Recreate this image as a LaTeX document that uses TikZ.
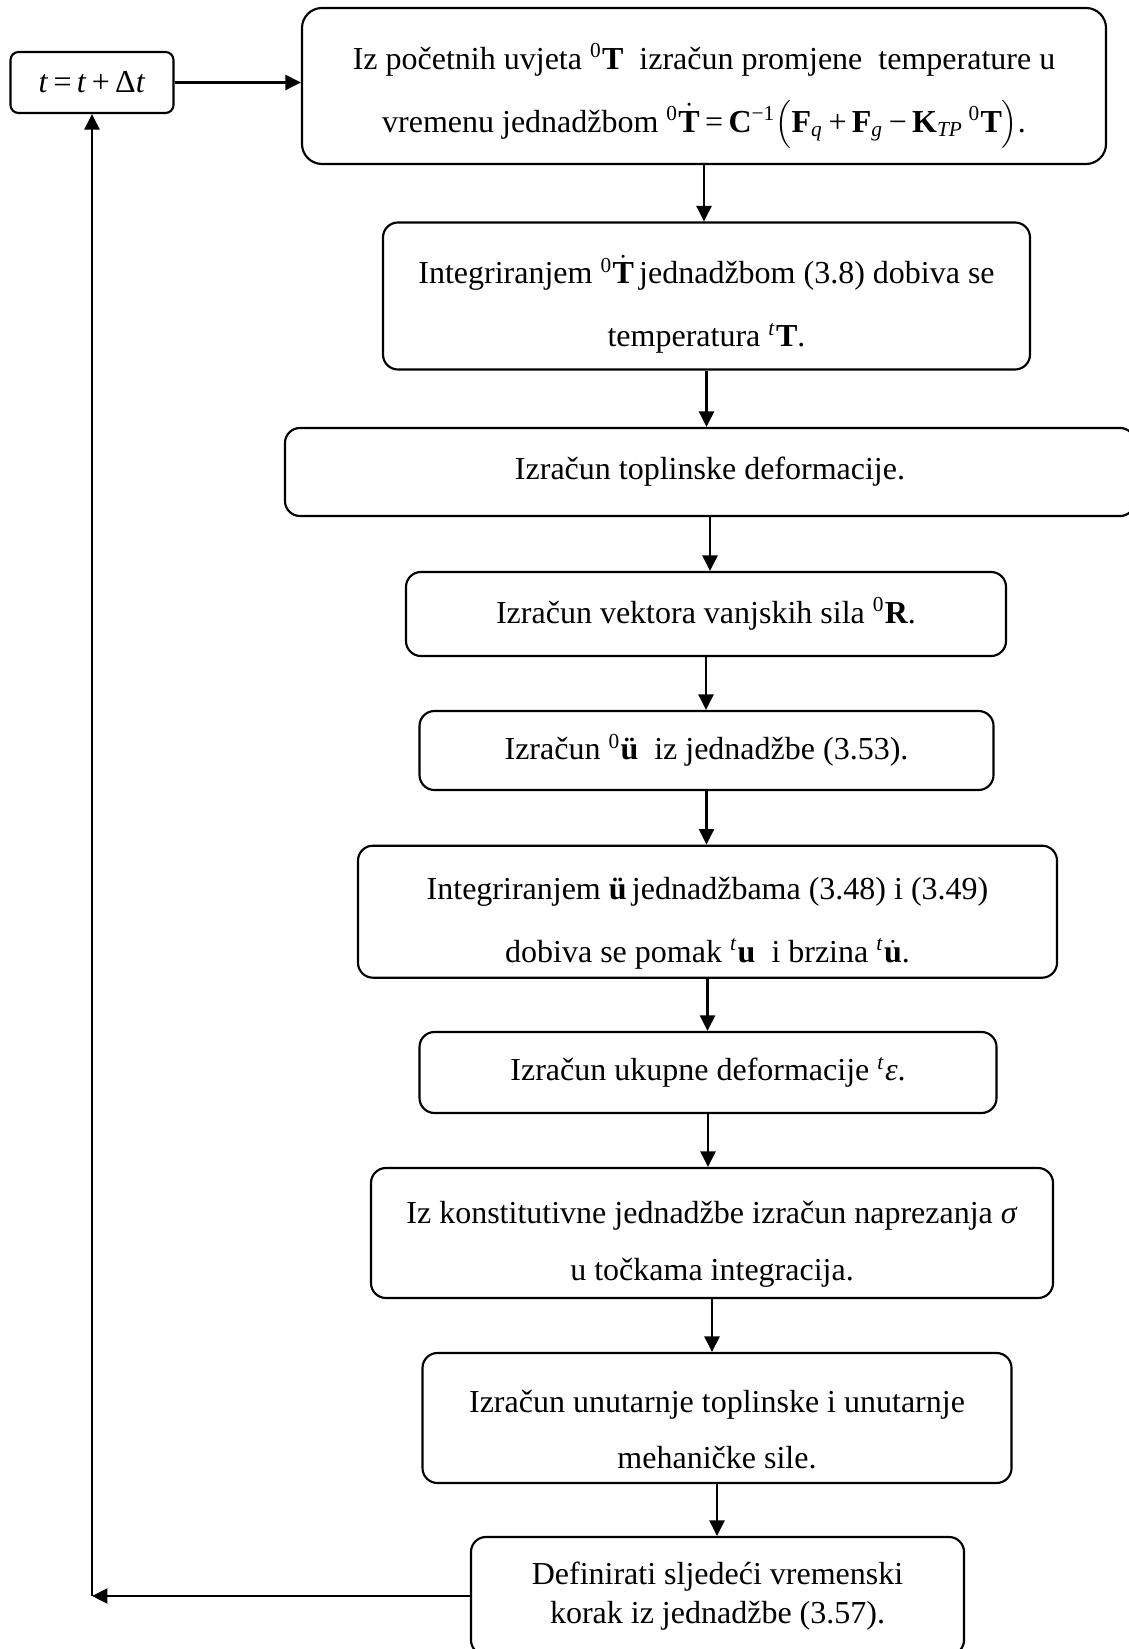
\documentclass[tikz,border=0pt]{standalone}
\usepackage{fontspec}
\setmainfont{Liberation Serif}
\usetikzlibrary{arrows.meta}

\begin{document}
\begin{tikzpicture}[x=0.375pt,y=-0.375pt,
  box/.style={draw, rounded corners=5.6pt, line width=0.8pt, inner sep=0pt, align=center,
    font=\fontsize{12}{14.8}\selectfont},
  twobox/.style={box, font=\fontsize{12}{23.6}\selectfont},
  arr/.style={line width=0.9pt, -{Triangle[length=5.8pt,width=5.6pt]}}]
\def\pu{0.375pt}
\def\up{\rule{0pt}{17pt}}
\def\dotbf#1{$\dot{\mbox{\textbf{#1}}}$}
\useasboundingbox (0,0) rectangle (1128,1649);
% time step box and the first step
\node[box, rounded corners=3pt, minimum width=163*\pu, minimum height=61*\pu] (tstep) at (92,82.5)
  {\textit{t}\,=\,\textit{t}\,+\,Δ\textit{t}};
\node[twobox, rounded corners=7.5pt, minimum width=804*\pu, minimum height=156*\pu] (b1) at (704,86)
  {\up Iz početnih uvjeta \textsuperscript{0}\textbf{T}\ \ izračun promjene\ \ temperature u\\
   vremenu jednadžbom \textsuperscript{0}\dotbf{T}\,=\,\textbf{C}\textsuperscript{−1}$\Bigl($\textbf{F}\textsubscript{\textit{q}}\,+\,\textbf{F}\textsubscript{\textit{g}}\,−\,\textbf{K}\textsubscript{\textit{TP}}\,\textsuperscript{0}\textbf{T}$\Bigr)$.};
\node[twobox, minimum width=647*\pu, minimum height=147*\pu] (b2) at (706.5,296)
  {\up Integriranjem \textsuperscript{0}\dotbf{T}\,jednadžbom (3.8) dobiva se\\
   temperatura \textsuperscript{\textit{t}}\textbf{T}.};
\node[box, minimum width=850*\pu, minimum height=88*\pu] (b3) at (710,472)
  {Izračun toplinske deformacije.};
\node[box, minimum width=600*\pu, minimum height=84*\pu] (b4) at (706,614)
  {Izračun vektora vanjskih sila \textsuperscript{0}\textbf{R}.};
\node[box, minimum width=574*\pu, minimum height=79*\pu] (b5) at (706.5,750.5)
  {Izračun \textsuperscript{0}\textbf{ü}\ \ iz jednadžbe (3.53).};
\node[twobox, minimum width=699*\pu, minimum height=132*\pu] (b6) at (707.5,911.7)
  {\up Integriranjem \textbf{ü}\,jednadžbama (3.48) i (3.49)\\
   dobiva se pomak \textsuperscript{\textit{t}}\textbf{u}\ \ i brzina \textsuperscript{\textit{t}}\dotbf{u}.};
\node[box, minimum width=577*\pu, minimum height=81*\pu] (b7) at (708,1072.5)
  {Izračun ukupne deformacije \textsuperscript{\textit{t}}\textit{ε}.};
\node[twobox, font=\fontsize{12}{21.3}\selectfont, minimum width=682*\pu, minimum height=130*\pu] (b8) at (712,1233)
  {\up Iz konstitutivne jednadžbe izračun naprezanja \textit{σ}\\
   u točkama integracija.};
\node[twobox, font=\fontsize{12}{21.3}\selectfont, minimum width=589*\pu, minimum height=130*\pu] (b9) at (717,1418)
  {\up Izračun unutarnje toplinske i unutarnje\\
   mehaničke sile.};
\node[box, minimum width=493*\pu, minimum height=118*\pu] (b10) at (717.5,1596)
  {Definirati sljedeći vremenski\\
   korak iz jednadžbe (3.57).};
% arrows down the chain
\draw[arr] (tstep.east) -- (tstep.east -| b1.west);
\foreach \a/\b in {b1/b2, b2/b3, b3/b4, b4/b5, b5/b6, b6/b7, b7/b8, b8/b9, b9/b10}
  \draw[arr] (\a.south) -- (\a.south |- \b.north);
% back to the time step
\coordinate (corner) at (tstep.south |- b10.west);
\draw[arr] (b10.west) -- (corner);
\draw[arr] (corner) -- (tstep.south);
\end{tikzpicture}
\end{document}
